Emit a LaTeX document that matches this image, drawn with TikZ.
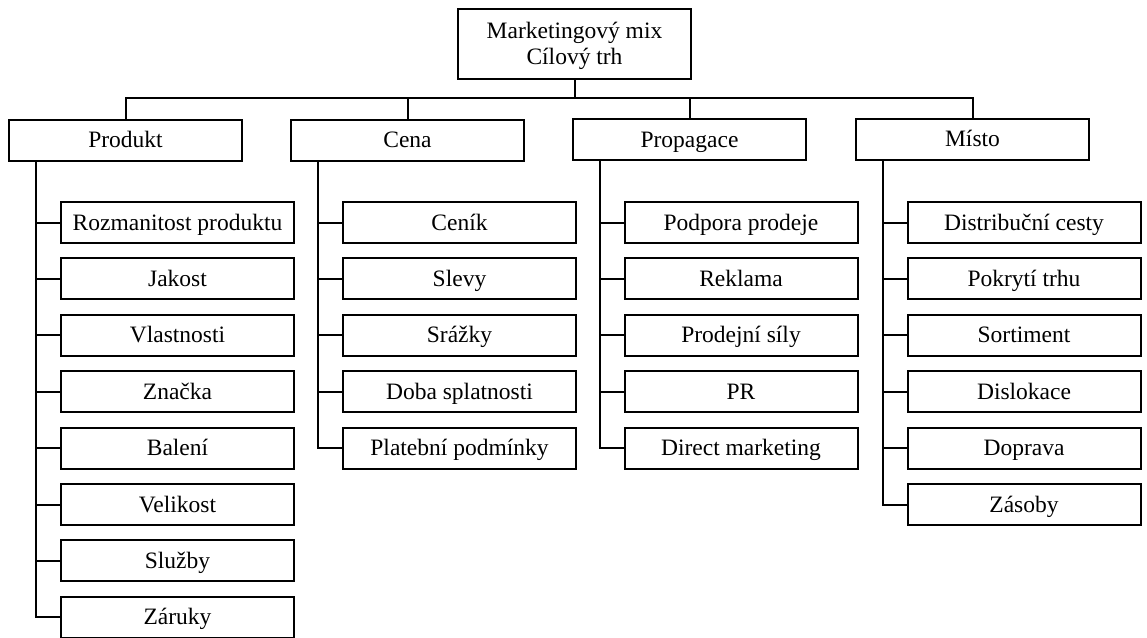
\documentclass[tikz,border=0pt]{standalone}
\usepackage{fontspec}
\setmainfont{Liberation Serif}
\begin{document}
\begin{tikzpicture}[x=1pt,y=-1pt,
  box/.style={draw, line width=2pt, rectangle, inner sep=0pt,
    minimum width=233pt, minimum height=41pt,
    text height=17pt, text depth=2pt,
    font=\fontsize{23.5}{26}\selectfont},
  topbox/.style={draw, line width=2pt, rectangle, inner sep=0pt,
    minimum width=233pt, minimum height=70pt, align=center,
    text height=42pt, text depth=2pt,
    font=\fontsize{23.5}{26}\selectfont},
  link/.style={line width=2pt}]
\useasboundingbox (0,0) rectangle (1147,637);

% root
\node[topbox] (top) at (574.5,44) {Marketingový mix\\Cílový trh};
\coordinate (bus) at (574.5,98);

% the four groups
\node[box] (pr) at (125.5,140) {Produkt};
\node[box] (ce) at (407.5,140) {Cena};
\node[box] (pp) at (689.5,139.5) {Propagace};
\node[box] (mi) at (972.5,139) {Místo};

\draw[link] (top.south) -- (bus);
\draw[link] (pr.north) |- (bus) -| (mi.north);
\draw[link] (ce.north) -- (ce.north |- bus);
\draw[link] (pp.north) -- (pp.north |- bus);

% items of each group
\foreach \txt [count=\i from 0] in {Rozmanitost produktu, Jakost, Vlastnosti,
    Značka, Balení, Velikost, Služby, Záruky}
  \node[box] (pr\i) at (177.5,222.5+56.4*\i) {\txt};
\foreach \txt [count=\i from 0] in {Ceník, Slevy, Srážky, Doba splatnosti,
    Platební podmínky}
  \node[box] (ce\i) at (459.5,222.5+56.4*\i) {\txt};
\foreach \txt [count=\i from 0] in {Podpora prodeje, Reklama, Prodejní síly,
    PR, Direct marketing}
  \node[box] (pp\i) at (741,222.5+56.4*\i) {\txt};
\foreach \txt [count=\i from 0] in {Distribuční cesty, Pokrytí trhu, Sortiment,
    Dislokace, Doprava, Zásoby}
  \node[box] (mi\i) at (1024,222.5+56.4*\i) {\txt};

% trunks with branches to the items
\foreach \i in {0,...,7}
  \draw[link] ([xshift=28pt]pr.south west) |- (pr\i.west);
\foreach \i in {0,...,4}
  \draw[link] ([xshift=28pt]ce.south west) |- (ce\i.west);
\foreach \i in {0,...,4}
  \draw[link] ([xshift=28pt]pp.south west) |- (pp\i.west);
\foreach \i in {0,...,5}
  \draw[link] ([xshift=28pt]mi.south west) |- (mi\i.west);
\end{tikzpicture}
\end{document}
